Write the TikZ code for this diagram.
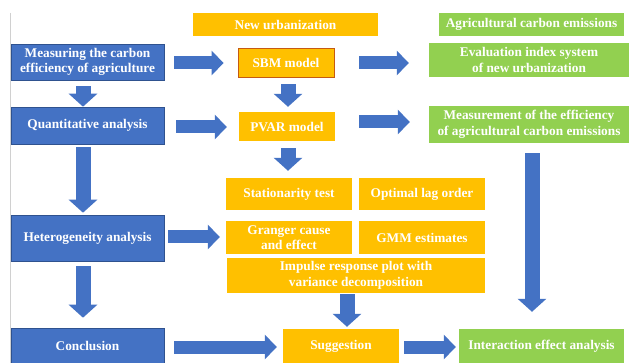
\documentclass[tikz,border=0pt]{standalone}
\usepackage{fontspec}
\setmainfont{Liberation Serif}
\usetikzlibrary{arrows.meta}
\definecolor{bblue}{HTML}{4472C4}
\definecolor{bblueline}{HTML}{2F528F}
\definecolor{borange}{HTML}{FFC000}
\definecolor{bgreen}{HTML}{92D050}
\definecolor{sbmline}{HTML}{C55A11}
\definecolor{edgegray}{HTML}{D0D0D0}
\begin{document}
\begin{tikzpicture}[x=1pt,y=-1pt,
  box/.style={inner sep=0pt, align=center, text=white, font=\bfseries\fontsize{13.3}{15.5}\selectfont},
  bluebox/.style={box, fill=bblue, draw=bblueline, line width=0.6pt},
  orangebox/.style={box, fill=borange},
  greenbox/.style={box, fill=bgreen},
  harrow/.style={draw=bblue, line width=13pt, -{Triangle[length=12pt,width=24pt]}},
  varrow/.style={draw=bblue, line width=15pt, -{Triangle[length=13pt,width=28pt]}}
]
\useasboundingbox (0,0) rectangle (629,363);
\fill[white] (0,0) rectangle (629,363);
\coordinate (gtop) at (10.5,13);
\coordinate (gbot) at (10.5,363);
\draw[edgegray, line width=0.8pt] (gtop) -- (gbot);

% left column
\node[bluebox, minimum width=153pt, minimum height=36pt] (b1) at (87.5,62) {Measuring the carbon\\efficiency of agriculture};
\node[bluebox, minimum width=153pt, minimum height=37pt] (b2) at (87.5,125.5) {Quantitative analysis};
\node[bluebox, minimum width=153pt, minimum height=46pt] (b3) at (87.5,238) {Heterogeneity analysis};
\node[bluebox, minimum width=153pt, minimum height=36pt] (b4) at (87.5,346) {Conclusion};

% middle column
\node[orangebox, minimum width=185pt, minimum height=23pt] (nu) at (285.5,24.5) {New urbanization};
\node[orangebox, draw=sbmline, line width=0.8pt, minimum width=96pt, minimum height=29pt] (sbm) at (286,62.5) {SBM model};
\node[orangebox, minimum width=96pt, minimum height=29pt] (pvar) at (287,126.5) {PVAR model};
\node[orangebox, minimum width=126pt, minimum height=32pt] (stat) at (289,194) {Stationarity test};
\node[orangebox, minimum width=126pt, minimum height=32pt] (lag) at (422,194) {Optimal lag order};
\node[orangebox, minimum width=126pt, minimum height=33pt] (gra) at (289,237.5) {Granger cause\\and effect};
\node[orangebox, minimum width=126pt, minimum height=33pt] (gmm) at (422,237.5) {GMM estimates};
\node[orangebox, minimum width=258pt, minimum height=35pt] (imp) at (356,275.5) {Impulse response plot with\\variance decomposition};
\node[orangebox, minimum width=116pt, minimum height=35pt] (sug) at (341,346.5) {Suggestion};

% right column
\node[greenbox, minimum width=185pt, minimum height=23pt] (ace) at (531.5,24.5) {Agricultural carbon emissions};
\node[greenbox, minimum width=200pt, minimum height=34pt] (eval) at (529,60) {Evaluation index system\\of new urbanization};
\node[greenbox, minimum width=200pt, minimum height=37pt] (meas) at (529,124.5) {Measurement of the efficiency\\of agricultural carbon emissions};
\node[greenbox, minimum width=165pt, minimum height=35pt] (inter) at (541.5,346.5) {Interaction effect analysis};

% arrows
\draw[harrow] ([xshift=10pt,yshift=-1pt]b1.east) -- ([xshift=-14pt,yshift=-0.5pt]sbm.west);
\draw[harrow] ([xshift=25pt,yshift=-0.5pt]sbm.east) -- ([xshift=-20pt,yshift=-3pt]eval.west);
\draw[varrow] ([xshift=-4.5pt,yshift=-6pt]b1.south) -- ([xshift=-4.5pt]b2.north);
\draw[varrow] ([xshift=2pt,yshift=-7pt]sbm.south) -- ([xshift=1pt,yshift=5pt]pvar.north);
\draw[harrow] ([xshift=12pt,yshift=-1.5pt]b2.east) -- ([xshift=-12pt,yshift=-0.5pt]pvar.west);
\draw[harrow] ([xshift=24pt,yshift=4.5pt]pvar.east) -- ([xshift=-19pt,yshift=2.5pt]meas.west);
\draw[varrow] ([xshift=1pt,yshift=-7pt]pvar.south) -- ([xshift=-1pt,yshift=7pt]stat.north);
\draw[varrow] ([xshift=-4.5pt,yshift=-3pt]b2.south) -- ([xshift=-4.5pt,yshift=2pt]b3.north);
\draw[harrow] ([xshift=4pt,yshift=1pt]b3.east) -- ([xshift=-6pt,yshift=0.5pt]gra.west);
\draw[varrow] ([xshift=-4.5pt,yshift=-5pt]b3.south) -- ([xshift=-4.5pt,yshift=10pt]b4.north);
\draw[harrow] ([xshift=10pt,yshift=-1pt]b4.east) -- ([xshift=-6pt,yshift=-0.5pt]sug.west);
\draw[varrow] ([xshift=-9pt,yshift=-1pt]imp.south) -- ([xshift=6pt,yshift=2pt]sug.north);
\draw[harrow] ([xshift=5pt,yshift=-0.5pt]sug.east) -- ([xshift=-3pt,yshift=-0.5pt]inter.west);
\draw[varrow] ([xshift=3pt,yshift=-10pt]meas.south) -- ([xshift=-9.5pt,yshift=17pt]inter.north);
\end{tikzpicture}
\end{document}
